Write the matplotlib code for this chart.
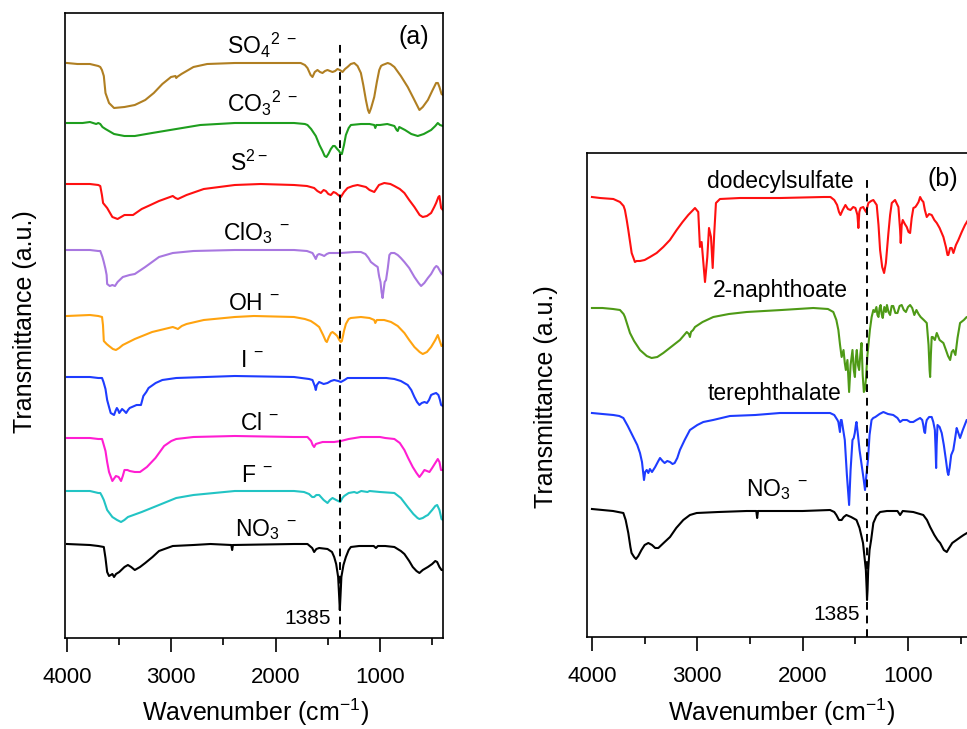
import matplotlib
matplotlib.use("Agg")
import matplotlib.pyplot as plt
from matplotlib.ticker import MultipleLocator

plt.rcParams['font.family'] = ['Liberation Sans', 'DejaVu Sans']
plt.rcParams['mathtext.fontset'] = 'custom'
plt.rcParams['mathtext.rm'] = 'Liberation Sans'
plt.rcParams['mathtext.it'] = 'Liberation Sans:italic'
plt.rcParams['mathtext.bf'] = 'Liberation Sans:bold'

# ---------------- panel (a): wavenumber (cm-1) / transmittance (a.u., stacked) ----------------
so4_wn = [4000, 3900, 3780, 3700, 3681, 3665, 3647, 3631, 3597, 3549, 3449, 3350, 3250, 3168, 3086,
          3003, 2960, 2953, 2945, 2903, 2837, 2788, 2656, 2392, 2100, 1824, 1760, 1720, 1695, 1665,
          1647, 1625, 1599, 1575, 1551, 1527, 1503, 1480, 1455, 1430, 1407, 1385, 1359, 1335, 1311,
          1280, 1247, 1215, 1183, 1160, 1135, 1115, 1103, 1085, 1055, 1030, 1007, 990, 975, 950,
          926, 900, 862, 800, 734, 680, 622, 590, 541, 500, 462, 445, 430, 410, 397]
so4_t = [58.7, 58.6, 58.6, 58.4, 58.3, 58.0, 57.4, 55.7, 54.7, 54.2, 54.3, 54.5, 55.0, 55.7, 56.6,
         57.3, 57.4, 57.2, 57.3, 57.6, 58.0, 58.3, 58.6, 58.7, 58.7, 58.7, 58.7, 58.5, 58.2, 57.5,
         57.3, 57.8, 58.0, 57.8, 57.7, 57.9, 58.0, 57.9, 57.8, 57.9, 58.1, 58.0, 57.8, 58.1, 58.3,
         58.6, 58.7, 58.4, 57.7, 56.5, 55.0, 54.0, 53.7, 54.2, 55.3, 56.8, 58.0, 58.4, 58.5, 58.6,
         58.7, 58.6, 58.3, 57.4, 56.3, 55.2, 54.0, 54.3, 55.0, 55.9, 56.7, 56.7, 56.3, 55.6, 55.5]

co3_wn = [4000, 3850, 3780, 3720, 3700, 3681, 3660, 3631, 3549, 3450, 3350, 3184, 2953, 2722, 2392,
          1824, 1720, 1695, 1660, 1615, 1580, 1551, 1530, 1513, 1495, 1471, 1450, 1433, 1410, 1392,
          1375, 1365, 1345, 1327, 1300, 1279, 1183, 1100, 1055, 1045, 1035, 1000, 930, 862, 840,
          830, 815, 760, 700, 638, 580, 510, 470, 446, 425, 397]
co3_t = [52.7, 52.7, 52.8, 52.6, 52.7, 52.6, 52.3, 52.1, 51.6, 51.4, 51.4, 51.7, 52.1, 52.5, 52.7,
         52.7, 52.6, 52.5, 52.1, 51.4, 50.5, 49.9, 49.4, 49.3, 49.6, 50.1, 50.4, 50.4, 50.1, 49.9,
         49.6, 49.6, 50.5, 51.5, 52.2, 52.5, 52.6, 52.6, 52.5, 52.2, 52.5, 52.5, 52.6, 52.4, 52.0,
         51.9, 52.3, 52.0, 51.6, 51.4, 51.6, 52.0, 52.4, 52.7, 52.5, 52.4]

s_wn = [4000, 3780, 3700, 3681, 3665, 3654, 3615, 3565, 3515, 3449, 3367, 3284, 3200, 3118, 2986,
        2960, 2937, 2854, 2689, 2392, 2144, 1824, 1700, 1631, 1600, 1567, 1540, 1519, 1495, 1471,
        1445, 1423, 1400, 1375, 1345, 1311, 1260, 1215, 1175, 1135, 1100, 1055, 1010, 959, 900,
        862, 810, 766, 720, 670, 620, 590, 550, 510, 480, 462, 440, 430, 414, 397]
s_t = [46.6, 46.6, 46.5, 46.4, 45.5, 44.7, 44.2, 43.3, 43.1, 43.5, 43.5, 44.1, 44.5, 44.9, 45.4,
       45.2, 45.1, 45.5, 46.1, 46.5, 46.6, 46.5, 46.4, 46.2, 45.9, 45.7, 46.0, 45.9, 45.6, 45.5,
       45.8, 45.7, 45.5, 45.3, 45.8, 46.2, 46.4, 46.5, 46.4, 46.3, 46.0, 45.8, 46.5, 46.7, 46.6,
       46.4, 46.1, 45.7, 45.0, 44.3, 43.5, 43.3, 43.4, 43.7, 44.3, 44.7, 45.3, 45.4, 44.2, 44.0]

clo3_wn = [4000, 3780, 3700, 3681, 3660, 3647, 3631, 3620, 3615, 3590, 3565, 3540, 3515, 3465, 3400,
           3350, 3250, 3118, 2986, 2788, 2392, 1824, 1700, 1647, 1625, 1615, 1600, 1583, 1555, 1535,
           1510, 1487, 1450, 1375, 1250, 1183, 1140, 1110, 1087, 1050, 1022, 1012, 1007, 995, 985,
           975, 965, 955, 942, 925, 910, 894, 862, 830, 800, 766, 720, 670, 630, 606,
           575, 541, 510, 478, 460, 446, 430, 414, 397]
clo3_t = [40.0, 40.0, 39.9, 39.9, 39.3, 38.8, 38.1, 37.5, 36.6, 36.4, 36.5, 36.4, 36.8, 37.3, 37.5,
          37.6, 38.3, 39.3, 39.7, 39.9, 40.0, 40.0, 39.9, 39.7, 39.3, 39.1, 39.5, 39.6, 39.5, 39.4,
          39.6, 39.7, 39.7, 39.7, 39.8, 39.8, 39.6, 39.2, 38.8, 38.5, 38.3, 37.6, 37.3, 36.8, 35.8,
          35.2, 36.0, 36.8, 37.0, 38.2, 39.5, 39.7, 39.7, 39.5, 39.2, 38.8, 38.2, 37.3, 36.7, 36.4,
          36.7, 37.2, 37.6, 38.2, 38.4, 38.3, 38.0, 37.7, 37.5]

oh_wn = [4000, 3780, 3700, 3664, 3655, 3647, 3620, 3597, 3560, 3531, 3500, 3465, 3350, 3184, 2986,
         2960, 2937, 2900, 2854, 2689, 2392, 2208, 1824, 1720, 1663, 1620, 1583, 1545, 1520, 1509,
         1490, 1470, 1455, 1430, 1410, 1390, 1375, 1365, 1345, 1327, 1300, 1279, 1183, 1100, 1055,
         1045, 1030, 960, 894, 830, 766, 720, 670, 620, 590, 550, 510, 470, 446, 430, 410, 397]
oh_t = [33.4, 33.5, 33.4, 33.3, 32.5, 30.9, 30.6, 30.4, 30.1, 30.0, 30.2, 30.5, 31.1, 31.8, 32.3,
        32.2, 32.1, 32.4, 32.6, 33.0, 33.3, 33.4, 33.3, 33.1, 32.9, 32.6, 32.3, 31.5, 30.9, 30.8,
        31.3, 31.7, 31.8, 31.6, 31.4, 31.0, 30.8, 30.9, 31.9, 32.6, 33.1, 33.2, 33.3, 33.2, 33.0,
        32.7, 33.0, 33.0, 32.8, 32.4, 31.7, 31.0, 30.3, 29.8, 29.6, 29.8, 30.3, 31.0, 31.5, 31.0,
        30.4, 30.5]

i_wn = [4000, 3780, 3700, 3664, 3650, 3631, 3615, 3597, 3581, 3565, 3549, 3535, 3522, 3510, 3499,
        3485, 3472, 3450, 3433, 3415, 3399, 3333, 3291, 3268, 3240, 3218, 3150, 3086, 2953, 2392,
        1824, 1680, 1647, 1625, 1615, 1605, 1583, 1540, 1503, 1470, 1439, 1400, 1375, 1340, 1311,
        1100, 940, 862, 800, 734, 700, 670, 645, 622, 600, 574, 550, 530, 510, 490,
        462, 440, 425, 414, 397]
i_t = [27.3, 27.3, 27.2, 27.2, 26.8, 26.1, 25.0, 24.3, 23.7, 23.6, 23.5, 23.9, 24.2, 24.0, 23.7,
       23.9, 24.1, 23.9, 23.7, 24.0, 24.2, 24.5, 24.5, 25.4, 25.8, 26.2, 26.7, 27.0, 27.2, 27.4,
       27.3, 27.1, 27.0, 26.4, 26.0, 26.5, 26.8, 26.6, 26.7, 26.9, 27.0, 26.9, 26.8, 27.0, 27.2,
       27.2, 27.2, 27.1, 26.9, 26.5, 26.0, 25.3, 24.8, 24.5, 24.7, 24.8, 24.7, 25.0, 25.5, 25.6,
       25.7, 25.5, 25.0, 24.5, 24.4]

cl_wn = [4000, 3780, 3700, 3664, 3650, 3631, 3615, 3597, 3565, 3545, 3531, 3505, 3482, 3465, 3449,
         3420, 3399, 3350, 3300, 3234, 3152, 3069, 3000, 2953, 2788, 2392, 1824, 1695, 1660, 1645,
         1631, 1615, 1583, 1550, 1503, 1440, 1375, 1300, 1183, 1000, 950, 862, 810, 766, 730,
         686, 650, 622, 600, 574, 550, 526, 500, 470, 446, 430, 415, 397]
cl_t = [21.2, 21.2, 21.1, 21.1, 20.6, 19.9, 18.8, 17.8, 16.9, 17.2, 17.4, 17.3, 16.9, 17.4, 18.0,
        18.0, 17.9, 17.8, 17.8, 18.3, 19.2, 20.4, 20.9, 21.1, 21.3, 21.4, 21.3, 21.3, 20.9, 20.5,
        20.3, 20.6, 20.7, 20.8, 20.8, 20.8, 20.9, 21.1, 21.3, 21.3, 21.2, 21.1, 20.7, 20.0, 19.2,
        18.3, 17.7, 17.3, 17.6, 18.0, 17.9, 17.8, 18.2, 18.7, 19.1, 18.8, 18.0, 18.0]

f_wn = [4000, 3780, 3700, 3681, 3665, 3647, 3615, 3565, 3520, 3482, 3450, 3416, 3284, 3118, 2953,
        2788, 2392, 1824, 1728, 1680, 1650, 1631, 1610, 1583, 1540, 1503, 1480, 1455, 1420, 1400,
        1381, 1360, 1343, 1300, 1247, 1220, 1180, 1120, 1100, 1000, 862, 800, 734, 680, 640,
        622, 590, 560, 541, 500, 470, 452, 430, 410, 397]
f_t = [15.9, 15.9, 15.7, 15.7, 15.4, 15.0, 14.0, 13.3, 13.0, 12.8, 13.0, 13.3, 13.8, 14.5, 15.2,
       15.5, 15.9, 15.9, 15.8, 15.6, 15.3, 15.3, 15.5, 15.5, 15.0, 14.7, 15.0, 15.2, 15.0, 14.9,
       14.8, 15.2, 15.4, 15.7, 15.8, 15.7, 15.9, 15.8, 15.9, 15.8, 15.7, 15.2, 14.3, 13.6, 13.2,
       13.1, 13.2, 13.4, 13.5, 14.0, 14.4, 14.5, 14.0, 13.1, 13.0]

no3a_wn = [4000, 3780, 3700, 3647, 3631, 3615, 3597, 3580, 3565, 3549, 3530, 3499, 3449, 3416, 3385,
           3350, 3300, 3250, 3180, 3118, 2986, 2788, 2625, 2425, 2417, 2409, 1824, 1695, 1650, 1631,
           1610, 1583, 1503, 1460, 1439, 1420, 1401, 1392, 1385, 1378, 1370, 1350, 1327, 1300, 1279,
           1200, 1100, 1060, 1039, 1020, 950, 862, 800, 766, 720, 686, 650, 622, 590, 541,
           500, 470, 452, 430, 410, 397]
no3a_t = [10.6, 10.5, 10.4, 10.3, 9.2, 7.8, 7.4, 7.5, 7.6, 7.3, 7.6, 7.8, 8.3, 8.5, 8.3,
          8.0, 8.3, 8.7, 9.3, 9.9, 10.4, 10.5, 10.6, 10.5, 10.0, 10.5, 10.6, 10.6, 10.2, 9.8,
          10.1, 10.2, 10.1, 9.8, 9.3, 8.6, 7.3, 5.5, 4.0, 5.5, 7.3, 8.5, 9.3, 10.0, 10.3,
          10.4, 10.4, 10.4, 10.2, 10.4, 10.4, 10.3, 9.9, 9.6, 8.9, 8.3, 7.9, 7.7, 8.0, 8.3,
          8.6, 8.9, 8.8, 8.3, 8.0, 8.0]

# ---------------- panel (b) ----------------
dds_wn = [4000, 3924, 3797, 3734, 3700, 3687, 3670, 3655, 3623, 3592, 3576, 3544, 3500, 3449, 3386,
          3323, 3260, 3196, 3140, 3086, 3040, 3022, 2991, 2975, 2959, 2927, 2905, 2889, 2870, 2854,
          2839, 2823, 2785, 2595, 2211, 1800, 1736, 1700, 1673, 1655, 1641, 1620, 1594, 1570, 1546,
          1520, 1499, 1480, 1471, 1462, 1450, 1425, 1410, 1398, 1376, 1350, 1329, 1310, 1297, 1280,
          1265, 1245, 1227, 1210, 1186, 1170, 1154, 1123, 1105, 1091, 1075, 1069, 1060, 1050, 1030,
          1012, 995, 980, 965, 949, 930, 917, 900, 885, 870, 854, 840, 822, 800, 775,
          750, 727, 700, 664, 640, 625, 617, 600, 585, 569, 545, 522, 490, 459, 430, 420]
dds_t = [45.3, 45.2, 45.1, 44.8, 44.4, 44.0, 43.0, 42.0, 39.7, 38.8, 38.9, 38.9, 39.0, 39.3, 39.7,
         40.3, 41.0, 42.0, 42.8, 43.5, 44.0, 44.2, 43.8, 40.3, 40.8, 36.8, 39.3, 42.2, 41.3, 38.2,
         41.7, 44.7, 45.1, 45.2, 45.2, 45.3, 45.3, 45.0, 44.5, 43.8, 43.5, 44.0, 44.5, 44.1, 44.0,
         44.3, 44.2, 43.5, 42.2, 43.8, 44.2, 44.3, 44.0, 43.8, 44.7, 44.9, 45.0, 44.7, 44.5, 42.5,
         40.0, 38.3, 37.7, 38.7, 41.7, 43.5, 44.7, 45.0, 44.6, 44.3, 42.0, 40.7, 42.5, 43.0, 42.6,
         42.3, 41.8, 41.7, 43.2, 44.2, 44.3, 44.5, 44.8, 45.3, 45.0, 44.8, 44.0, 43.3, 43.6, 43.5,
         43.0, 42.7, 42.2, 41.3, 40.3, 39.5, 39.5, 40.2, 40.2, 39.7, 40.5, 41.0, 41.8, 42.5, 43.0, 43.0]

nap_wn = [4000, 3900, 3800, 3734, 3700, 3687, 3660, 3639, 3600, 3544, 3480, 3434, 3380, 3323, 3250,
          3165, 3100, 3080, 3070, 3060, 3040, 3022, 2950, 2848, 2700, 2532, 2200, 1899, 1760, 1709,
          1680, 1661, 1645, 1630, 1612, 1600, 1590, 1575, 1559, 1545, 1527, 1515, 1504, 1495, 1486,
          1475, 1464, 1452, 1441, 1430, 1419, 1410, 1400, 1385, 1362, 1345, 1329, 1315, 1300, 1290,
          1280, 1270, 1260, 1250, 1240, 1225, 1210, 1200, 1185, 1170, 1155, 1140, 1120, 1100, 1080,
          1060, 1040, 1020, 1000, 980, 960, 940, 920, 900, 880, 850, 822, 805, 795, 790,
          783, 775, 765, 745, 727, 700, 664, 640, 620, 600, 585, 570, 550, 530, 506,
          470, 443, 420]
nap_t = [34.2, 34.2, 34.1, 34.0, 33.6, 33.3, 32.4, 31.7, 30.9, 30.0, 29.4, 29.2, 29.3, 29.7, 30.3,
         31.0, 31.8, 31.6, 31.3, 31.8, 32.0, 32.3, 32.8, 33.3, 33.6, 33.8, 34.0, 34.2, 34.1, 33.8,
         33.0, 32.0, 30.5, 29.3, 30.0, 28.7, 28.0, 29.0, 25.8, 28.5, 30.0, 28.0, 27.3, 29.2, 30.0,
         28.5, 28.0, 29.6, 30.7, 27.5, 25.8, 26.0, 27.0, 29.5, 32.0, 33.3, 34.0, 33.8, 34.3, 33.5,
         33.3, 34.2, 34.5, 33.6, 33.2, 34.3, 33.8, 34.5, 33.8, 33.5, 34.4, 34.4, 33.7, 33.7, 34.4,
         34.5, 34.0, 33.8, 34.3, 34.5, 34.2, 33.5, 34.0, 33.6, 33.3, 33.0, 32.7, 30.5, 28.0, 27.3,
         29.5, 31.3, 31.3, 31.0, 31.7, 31.0, 30.7, 30.0, 29.4, 29.0, 29.8, 30.0, 29.5, 31.2, 32.7,
         33.0, 33.3, 33.3]

ter_wn = [4000, 3900, 3797, 3740, 3702, 3660, 3608, 3570, 3544, 3525, 3506, 3495, 3480, 3465, 3450,
          3430, 3400, 3370, 3354, 3330, 3310, 3285, 3259, 3235, 3215, 3190, 3165, 3120, 3070, 3000,
          2943, 2850, 2690, 2450, 2215, 1900, 1740, 1700, 1670, 1661, 1646, 1638, 1630, 1600, 1580,
          1559, 1545, 1527, 1515, 1505, 1495, 1489, 1475, 1460, 1440, 1420, 1408, 1395, 1380, 1365,
          1346, 1330, 1310, 1270, 1234, 1190, 1140, 1100, 1075, 1050, 1010, 980, 950, 920, 885,
          865, 855, 845, 838, 830, 822, 800, 775, 760, 745, 738, 733, 728, 720, 700,
          680, 660, 640, 625, 617, 605, 590, 570, 555, 538, 525, 506, 480, 443, 420]
ter_t = [23.7, 23.6, 23.5, 23.4, 23.2, 22.4, 21.3, 20.5, 19.7, 18.8, 17.0, 17.8, 18.0, 17.7, 18.1,
         17.8, 18.3, 18.9, 19.2, 18.9, 18.7, 18.9, 18.8, 18.6, 18.7, 19.2, 20.0, 21.0, 22.0, 22.5,
         22.8, 23.0, 23.4, 23.5, 23.7, 23.7, 23.7, 23.5, 23.0, 22.8, 21.8, 23.0, 23.0, 21.0, 17.5,
         14.5, 18.0, 21.0, 21.2, 21.7, 22.5, 22.8, 21.5, 20.0, 18.5, 17.0, 16.0, 17.5, 19.0, 21.5,
         23.0, 23.2, 23.3, 23.6, 23.8, 23.6, 23.5, 23.2, 22.8, 23.0, 23.0, 22.8, 22.8, 23.0, 23.2,
         23.0, 22.5, 21.8, 21.7, 22.6, 23.0, 23.3, 23.3, 22.8, 22.0, 20.0, 18.2, 20.5, 22.5, 22.3,
         21.7, 20.5, 19.0, 17.8, 17.5, 18.2, 19.5, 20.0, 21.0, 22.2, 21.8, 21.2, 22.0, 23.0, 23.0]

no3b_wn = [4000, 3900, 3800, 3702, 3680, 3655, 3635, 3624, 3600, 3582, 3560, 3530, 3500, 3465, 3430,
           3400, 3370, 3320, 3259, 3200, 3133, 3070, 3006, 2800, 2532, 2440, 2432, 2424, 2000, 1740,
           1700, 1680, 1655, 1630, 1610, 1585, 1540, 1489, 1460, 1440, 1427, 1410, 1400, 1392, 1389,
           1384, 1378, 1365, 1350, 1329, 1300, 1265, 1200, 1100, 1075, 1050, 950, 855, 820, 790,
           750, 720, 695, 660, 632, 610, 580, 540, 500, 472, 440, 420]
no3b_t = [14.1, 14.0, 13.9, 13.7, 13.0, 11.7, 10.3, 9.7, 9.3, 9.1, 9.4, 10.0, 10.5, 10.7, 10.5,
          10.2, 10.2, 10.7, 11.3, 12.2, 13.0, 13.5, 13.7, 13.8, 13.9, 13.9, 13.2, 13.9, 13.9, 14.0,
          13.8, 13.5, 13.0, 13.0, 13.3, 13.5, 13.3, 13.0, 12.2, 11.3, 10.7, 9.0, 8.0, 6.0, 5.0,
          6.0, 8.0, 10.0, 11.0, 12.7, 13.4, 13.8, 13.9, 13.9, 13.5, 13.9, 13.8, 13.5, 13.0, 12.3,
          11.5, 11.0, 10.7, 10.0, 9.8, 10.2, 10.7, 11.0, 11.3, 11.5, 11.7, 11.8]

peak_wn = 1385

fig = plt.figure(figsize=(9.67, 7.29), dpi=100)
W, H = 967, 729
ax_a = fig.add_axes([65 / W, 1 - 638 / H, (443 - 65) / W, (638 - 13) / H])
ax_b = fig.add_axes([587 / W, 1 - 637 / H, (969 - 587) / W, (637 - 153) / H])

curves_a = [
    (so4_wn, so4_t, '#B07F22', r'SO$_4$$^{2\ -}$', 2131, 60.5),
    (co3_wn, co3_t, '#1E9E1E', r'CO$_3$$^{2\ -}$', 2131, 54.7),
    (s_wn, s_t, '#FF1010', r'S$^{2-}$', 2256, 48.7),
    (clo3_wn, clo3_t, '#A877E0', r'ClO$_3$$^{\ -}$', 2179, 41.7),
    (oh_wn, oh_t, '#FFA30F', r'OH$^{\ -}$', 2208, 34.7),
    (i_wn, i_t, '#1E3CFF', r'I$^{\ -}$', 2227, 29.0),
    (cl_wn, cl_t, '#FF1ED2', r'Cl$^{\ -}$', 2150, 22.7),
    (f_wn, f_t, '#22C4C4', r'F$^{\ -}$', 2179, 17.5),
    (no3a_wn, no3a_t, '#000000', r'NO$_3$$^{\ -}$', 2093, 12.0),
]
curves_b = [
    (dds_wn, dds_t, '#FF1010', 'dodecylsulfate', 2215, 46.9),
    (nap_wn, nap_t, '#4E9A16', '2-naphthoate', 2215, 36.0),
    (ter_wn, ter_t, '#1E3CFF', 'terephthalate', 2263, 25.7),
    (no3b_wn, no3b_t, '#000000', r'NO$_3$$^{\ -}$', 2244, 16.0),
]


def draw_panel(ax, curves, xlim, ylim, tag, tag_pos, dash_top, num_pos):
	for wn, t, color, label, lx, ly in curves:
		ax.plot(wn, t, color=color, lw=1.5, solid_joinstyle='round')
		ax.text(lx, ly, label, ha='center', va='center', fontsize=16.5)
	ax.plot([peak_wn, peak_wn], [ylim[0], dash_top], color='black', lw=1.4, ls=(0, (4, 3)))
	ax.text(num_pos[0], num_pos[1], str(peak_wn), ha='right', va='center', fontsize=15)
	ax.text(tag_pos[0], tag_pos[1], tag, ha='center', va='center', fontsize=18)

	ax.set_xlim(*xlim)
	ax.set_ylim(*ylim)
	ax.set_yticks([])
	ax.xaxis.set_major_locator(MultipleLocator(1000))
	ax.xaxis.set_minor_locator(MultipleLocator(500))
	ax.tick_params(axis='x', which='major', direction='out', length=10, width=1.2,
				   labelsize=16, pad=11)
	ax.tick_params(axis='x', which='minor', direction='out', length=5, width=1.2)
	for sp in ax.spines.values():
		sp.set_linewidth(1.2)
	ax.set_xlabel(r'Wavenumber (cm$^{-1}$)', fontsize=18)
	ax.set_ylabel('Transmittance (a.u.)', fontsize=18)


draw_panel(ax_a, curves_a, (4019, 396), (1.2, 63.7), '(a)', (674, 61.3), 60.8, (1470, 3.2))
draw_panel(ax_b, curves_b, (4047, 421), (1.3, 49.7), '(b)', (668, 47.1), 47.3, (1456, 3.5))

ax_a.xaxis.set_label_coords(0.503, -0.094)
ax_a.yaxis.set_label_coords(-0.074, 0.507)
ax_b.xaxis.set_label_coords(0.508, -0.124)
ax_b.yaxis.set_label_coords(-0.076, 0.496)

fig.savefig('out.png', dpi=100)
